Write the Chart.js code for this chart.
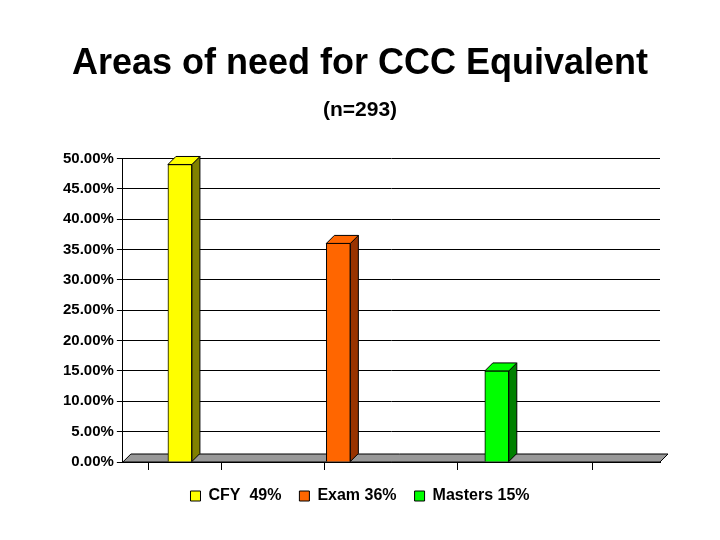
<!DOCTYPE html>
<html><head><meta charset="utf-8">
<script src="https://cdn.jsdelivr.net/npm/chart.js@4"></script>
<style>html,body{margin:0;background:#fff}#wrap{width:720px;height:540px}</style>
</head><body><div id="wrap"><canvas id="c"></canvas></div>
<script>
const categories = ['CFY  49%', 'Exam 36%', 'Masters 15%'];
const values = [49, 36, 15];
const fronts = ['#ffff00', '#ff6600', '#00ff00'];
const sides = ['#808000', '#993300', '#008000'];
const yTicks = [0, 5, 10, 15, 20, 25, 30, 35, 40, 45, 50];
const xTicks = [0.03, 0.49, 1.33, 2.18, 3.03];
const D = 8; // 3D depth offset

const threeD = {
  id: 'threeD',
  beforeDatasetsDraw(chart) {
    const {ctx, chartArea: a} = chart;
    ctx.save();
    ctx.fillStyle = '#999';
    ctx.strokeStyle = '#000';
    ctx.beginPath();
    ctx.moveTo(a.left, a.bottom); ctx.lineTo(a.right, a.bottom);
    ctx.lineTo(a.right + D, a.bottom - D); ctx.lineTo(a.left + D, a.bottom - D);
    ctx.closePath(); ctx.fill(); ctx.stroke();
    ctx.restore();
  },
  afterDatasetsDraw(chart) {
    const {ctx} = chart;
    chart.getDatasetMeta(0).data.forEach((b, i) => {
      const l = b.x - b.width / 2, r = b.x + b.width / 2, t = b.y, bt = b.base;
      ctx.save();
      ctx.strokeStyle = '#000'; ctx.lineWidth = 1;
      ctx.fillStyle = sides[i];
      ctx.beginPath();
      ctx.moveTo(r, t); ctx.lineTo(r + D, t - D); ctx.lineTo(r + D, bt - D); ctx.lineTo(r, bt);
      ctx.closePath(); ctx.fill(); ctx.stroke();
      ctx.fillStyle = fronts[i];
      ctx.beginPath();
      ctx.moveTo(l, t); ctx.lineTo(l + D, t - D); ctx.lineTo(r + D, t - D); ctx.lineTo(r, t);
      ctx.closePath(); ctx.fill(); ctx.stroke();
      ctx.restore();
    });
  }
};

new Chart(document.getElementById('c'), {
  type: 'bar',
  data: { datasets: [{
    data: values.map((v, i) => ({x: i, y: v})),
    backgroundColor: fronts, borderColor: '#000', borderWidth: 1,
    barThickness: 24
  }]},
  options: {
    responsive: true, maintainAspectRatio: false, animation: false,
    layout: { padding: {left: 60, right: 60, top: 0, bottom: 26} },
    scales: {
      x: { type: 'linear', min: -0.36, max: 3.03, offset: false,
        afterBuildTicks: s => { s.ticks = xTicks.map(v => ({value: v})); },
        ticks: { display: false },
        grid: { drawOnChartArea: false, color: '#000', tickLength: 8 },
        border: { color: '#000' } },
      y: { min: 0, max: 50,
        afterBuildTicks: s => { s.ticks = yTicks.map(v => ({value: v})); },
        ticks: { color: '#000', font: {family: 'Arial, Liberation Sans', size: 15, weight: 'bold'},
          callback: v => v.toFixed(2) + '%' },
        grid: { color: '#000', tickLength: 6 },
        border: { color: '#000' } }
    },
    plugins: {
      title: { display: true, text: 'Areas of need for CCC Equivalent', color: '#000',
        font: {family: 'Arial, Liberation Sans', size: 36, weight: 'bold'}, padding: {top: 42, bottom: 12} },
      subtitle: { display: true, text: '(n=293)', color: '#000',
        font: {family: 'Arial, Liberation Sans', size: 21, weight: 'bold'}, padding: {bottom: 36} },
      legend: { position: 'bottom',
        labels: { color: '#000', boxWidth: 10, boxHeight: 10,
          font: {family: 'Arial, Liberation Sans', size: 16, weight: 'bold'}, padding: 18,
          generateLabels: () => categories.map((c, i) => ({text: c, fillStyle: fronts[i], strokeStyle: '#000', lineWidth: 1})) } },
      tooltip: { enabled: false }
    }
  },
  plugins: [threeD]
});
</script></body></html>
